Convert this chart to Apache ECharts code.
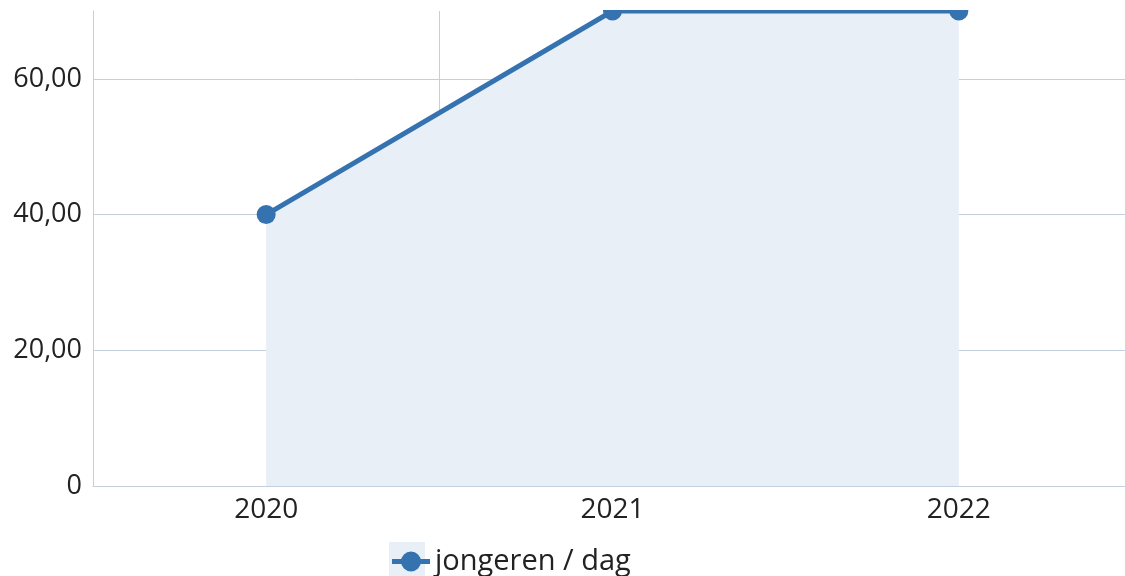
<!DOCTYPE html>
<html><head><meta charset="utf-8">
<script src="https://cdn.jsdelivr.net/npm/echarts@6/dist/echarts.min.js"></script>
<style>html,body{margin:0;padding:0;background:#fff;overflow:hidden;width:1125px;height:576px;position:relative}
#c{position:absolute;left:0;top:10px;width:1132px;height:566px}</style>
</head><body><div id="c"></div>
<script>
const categories = ['2020', '2021', '2022'];
const seriesName = 'jongeren / dag';
const values = [40, 70, 70];
const yTicks = [0, 20, 40, 60];

const chart = echarts.init(document.getElementById('c'), null, {renderer: 'canvas'});
const font = '"Open Sans", "Noto Sans", sans-serif';
chart.setOption({
  animation: false,
  textStyle: {fontFamily: font},
  grid: {left: 93, right: 0, top: 1, bottom: 90},
  graphic: [{type: 'rect', left: 389, top: 532, shape: {width: 36, height: 34}, style: {fill: '#e8eff7'}, z: -1}],
  legend: {
    left: 387, top: 532, itemWidth: 38, itemHeight: 20, itemGap: 6,
    textStyle: {fontSize: 29, color: '#222', fontFamily: font},
    data: [{name: seriesName, icon: 'path://M0,7.5 H38 V12.5 H0 Z M19,0 A10,10 0 1 1 18.99,0 Z'}]
  },
  xAxis: {
    type: 'category', data: categories, boundaryGap: true,
    axisLine: {show: true, lineStyle: {color: '#c3cfdc', width: 1}},
    axisTick: {show: false},
    axisLabel: {fontSize: 28, color: '#222', margin: 10, fontFamily: font},
    splitLine: {show: true, lineStyle: {color: '#c3cfdc', width: 1}}
  },
  yAxis: {
    type: 'value', min: 0, max: 70, interval: 20,
    axisLine: {show: true, lineStyle: {color: '#c3cfdc', width: 1}},
    axisTick: {show: false},
    axisLabel: {fontSize: 27, color: '#222', margin: 11, showMaxLabel: false, fontFamily: font,
      formatter: v => v === 0 ? '0' : v.toFixed(2).replace('.', ',')},
    splitLine: {show: true, showMaxLine: false, lineStyle: {color: '#c3cfdc', width: 1}}
  },
  series: [{
    name: seriesName, type: 'line', data: values,
    symbol: 'circle', symbolSize: 19, clip: false,
    lineStyle: {color: '#3572b0', width: 5},
    itemStyle: {color: '#3572b0'},
    areaStyle: {color: '#e8eff7', opacity: 1}
  }]
});
</script></body></html>
